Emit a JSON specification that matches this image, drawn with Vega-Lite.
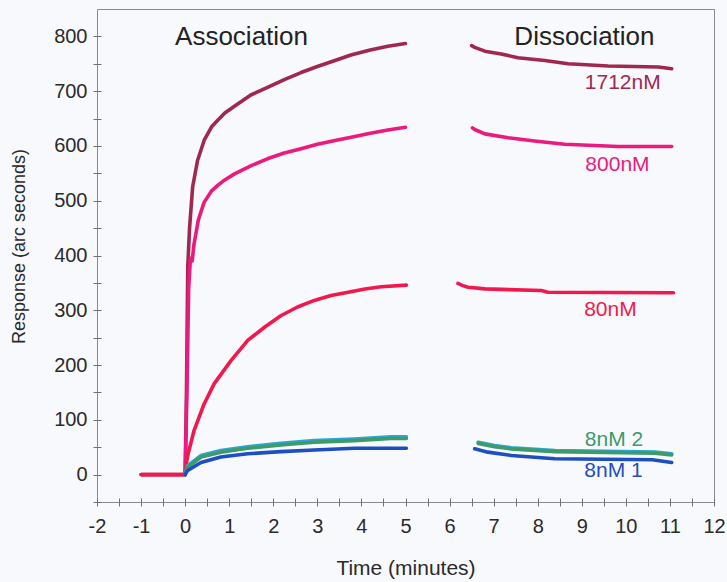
{
  "$schema": "https://vega.github.io/schema/vega-lite/v6.json",
  "width": 617,
  "height": 493,
  "autosize": "none",
  "padding": {"left": 97, "top": 9, "right": 13, "bottom": 80},
  "background": "#f8f9fc",
  "config": {
    "view": {"stroke": "#8a8a8a", "strokeWidth": 1, "fill": "#f8f9fc"},
    "font": "Liberation Sans",
    "axis": {
      "grid": false, "domain": false,
      "offset": -4, "tickSize": 8, "tickColor": "#707070", "tickWidth": 1,
      "labelFontSize": 20, "labelColor": "#2a2a2a",
      "labelOverlap": false, "labelFlush": false, "labelBound": false,
      "titleFontWeight": "normal", "titleColor": "#2a2a2a"
    }
  },
  "datasets": {
    "curves": [
      {"curve": "1712nM", "phase": "association", "t": -1, "r": 0},
      {"curve": "1712nM", "phase": "association", "t": 0, "r": 0},
      {"curve": "1712nM", "phase": "association", "t": 0.03, "r": 150},
      {"curve": "1712nM", "phase": "association", "t": 0.06, "r": 380},
      {"curve": "1712nM", "phase": "association", "t": 0.1, "r": 450},
      {"curve": "1712nM", "phase": "association", "t": 0.17, "r": 525},
      {"curve": "1712nM", "phase": "association", "t": 0.28, "r": 573},
      {"curve": "1712nM", "phase": "association", "t": 0.43, "r": 610},
      {"curve": "1712nM", "phase": "association", "t": 0.6, "r": 635},
      {"curve": "1712nM", "phase": "association", "t": 0.74, "r": 647},
      {"curve": "1712nM", "phase": "association", "t": 0.9, "r": 660},
      {"curve": "1712nM", "phase": "association", "t": 1.11, "r": 672},
      {"curve": "1712nM", "phase": "association", "t": 1.49, "r": 693},
      {"curve": "1712nM", "phase": "association", "t": 1.87, "r": 707},
      {"curve": "1712nM", "phase": "association", "t": 2.25, "r": 721},
      {"curve": "1712nM", "phase": "association", "t": 2.63, "r": 734},
      {"curve": "1712nM", "phase": "association", "t": 3.0, "r": 745},
      {"curve": "1712nM", "phase": "association", "t": 3.4, "r": 756},
      {"curve": "1712nM", "phase": "association", "t": 3.76, "r": 766},
      {"curve": "1712nM", "phase": "association", "t": 4.2, "r": 775},
      {"curve": "1712nM", "phase": "association", "t": 4.6, "r": 782},
      {"curve": "1712nM", "phase": "association", "t": 5.0, "r": 787},
      {"curve": "1712nM", "phase": "dissociation", "t": 6.5, "r": 783},
      {"curve": "1712nM", "phase": "dissociation", "t": 6.57, "r": 780},
      {"curve": "1712nM", "phase": "dissociation", "t": 6.8, "r": 773},
      {"curve": "1712nM", "phase": "dissociation", "t": 7.17, "r": 768},
      {"curve": "1712nM", "phase": "dissociation", "t": 7.55, "r": 761},
      {"curve": "1712nM", "phase": "dissociation", "t": 8.16, "r": 756},
      {"curve": "1712nM", "phase": "dissociation", "t": 8.69, "r": 750},
      {"curve": "1712nM", "phase": "dissociation", "t": 9.6, "r": 746},
      {"curve": "1712nM", "phase": "dissociation", "t": 10.74, "r": 744},
      {"curve": "1712nM", "phase": "dissociation", "t": 11.04, "r": 741},

      {"curve": "800nM", "phase": "association", "t": 0, "r": 0},
      {"curve": "800nM", "phase": "association", "t": 0.04, "r": 150},
      {"curve": "800nM", "phase": "association", "t": 0.08, "r": 340},
      {"curve": "800nM", "phase": "association", "t": 0.12, "r": 395},
      {"curve": "800nM", "phase": "association", "t": 0.16, "r": 390},
      {"curve": "800nM", "phase": "association", "t": 0.2, "r": 420},
      {"curve": "800nM", "phase": "association", "t": 0.3, "r": 465},
      {"curve": "800nM", "phase": "association", "t": 0.43, "r": 497},
      {"curve": "800nM", "phase": "association", "t": 0.6, "r": 518},
      {"curve": "800nM", "phase": "association", "t": 0.74, "r": 528},
      {"curve": "800nM", "phase": "association", "t": 0.9, "r": 538},
      {"curve": "800nM", "phase": "association", "t": 1.12, "r": 549},
      {"curve": "800nM", "phase": "association", "t": 1.5, "r": 564},
      {"curve": "800nM", "phase": "association", "t": 1.88, "r": 577},
      {"curve": "800nM", "phase": "association", "t": 2.25, "r": 587},
      {"curve": "800nM", "phase": "association", "t": 2.63, "r": 595},
      {"curve": "800nM", "phase": "association", "t": 3.0, "r": 603},
      {"curve": "800nM", "phase": "association", "t": 3.4, "r": 610},
      {"curve": "800nM", "phase": "association", "t": 3.77, "r": 616},
      {"curve": "800nM", "phase": "association", "t": 4.2, "r": 623},
      {"curve": "800nM", "phase": "association", "t": 4.6, "r": 629},
      {"curve": "800nM", "phase": "association", "t": 5.0, "r": 634},
      {"curve": "800nM", "phase": "dissociation", "t": 6.52, "r": 633},
      {"curve": "800nM", "phase": "dissociation", "t": 6.57, "r": 630},
      {"curve": "800nM", "phase": "dissociation", "t": 6.8, "r": 622},
      {"curve": "800nM", "phase": "dissociation", "t": 7.33, "r": 615},
      {"curve": "800nM", "phase": "dissociation", "t": 7.93, "r": 609},
      {"curve": "800nM", "phase": "dissociation", "t": 8.61, "r": 603},
      {"curve": "800nM", "phase": "dissociation", "t": 9.83, "r": 599},
      {"curve": "800nM", "phase": "dissociation", "t": 11.04, "r": 599},

      {"curve": "80nM", "phase": "association", "t": -1, "r": 0},
      {"curve": "80nM", "phase": "association", "t": 0, "r": 0},
      {"curve": "80nM", "phase": "association", "t": 0.05, "r": 32},
      {"curve": "80nM", "phase": "association", "t": 0.2, "r": 80},
      {"curve": "80nM", "phase": "association", "t": 0.43, "r": 129},
      {"curve": "80nM", "phase": "association", "t": 0.66, "r": 166},
      {"curve": "80nM", "phase": "association", "t": 1.04, "r": 208},
      {"curve": "80nM", "phase": "association", "t": 1.42, "r": 245},
      {"curve": "80nM", "phase": "association", "t": 1.8, "r": 269},
      {"curve": "80nM", "phase": "association", "t": 2.17, "r": 290},
      {"curve": "80nM", "phase": "association", "t": 2.55, "r": 306},
      {"curve": "80nM", "phase": "association", "t": 2.93, "r": 318},
      {"curve": "80nM", "phase": "association", "t": 3.31, "r": 327},
      {"curve": "80nM", "phase": "association", "t": 3.7, "r": 333},
      {"curve": "80nM", "phase": "association", "t": 4.08, "r": 339},
      {"curve": "80nM", "phase": "association", "t": 4.45, "r": 343},
      {"curve": "80nM", "phase": "association", "t": 5.02, "r": 346},
      {"curve": "80nM", "phase": "dissociation", "t": 6.19, "r": 349},
      {"curve": "80nM", "phase": "dissociation", "t": 6.3, "r": 345},
      {"curve": "80nM", "phase": "dissociation", "t": 6.42, "r": 342},
      {"curve": "80nM", "phase": "dissociation", "t": 6.8, "r": 339},
      {"curve": "80nM", "phase": "dissociation", "t": 8.08, "r": 336},
      {"curve": "80nM", "phase": "dissociation", "t": 8.23, "r": 333},
      {"curve": "80nM", "phase": "dissociation", "t": 11.08, "r": 332},

      {"curve": "8nM 2b", "phase": "association", "t": 0, "r": 0},
      {"curve": "8nM 2b", "phase": "association", "t": 0.05, "r": 16},
      {"curve": "8nM 2b", "phase": "association", "t": 0.36, "r": 35},
      {"curve": "8nM 2b", "phase": "association", "t": 0.81, "r": 44},
      {"curve": "8nM 2b", "phase": "association", "t": 1.42, "r": 51},
      {"curve": "8nM 2b", "phase": "association", "t": 2.17, "r": 57},
      {"curve": "8nM 2b", "phase": "association", "t": 2.93, "r": 62},
      {"curve": "8nM 2b", "phase": "association", "t": 3.84, "r": 65},
      {"curve": "8nM 2b", "phase": "association", "t": 4.67, "r": 69},
      {"curve": "8nM 2b", "phase": "association", "t": 5.02, "r": 69},
      {"curve": "8nM 2b", "phase": "dissociation", "t": 6.65, "r": 59},
      {"curve": "8nM 2b", "phase": "dissociation", "t": 7.02, "r": 53},
      {"curve": "8nM 2b", "phase": "dissociation", "t": 7.4, "r": 49},
      {"curve": "8nM 2b", "phase": "dissociation", "t": 8.39, "r": 44},
      {"curve": "8nM 2b", "phase": "dissociation", "t": 10.66, "r": 41},
      {"curve": "8nM 2b", "phase": "dissociation", "t": 11.04, "r": 38},

      {"curve": "8nM 2", "phase": "association", "t": 0, "r": 0},
      {"curve": "8nM 2", "phase": "association", "t": 0.05, "r": 13},
      {"curve": "8nM 2", "phase": "association", "t": 0.36, "r": 32},
      {"curve": "8nM 2", "phase": "association", "t": 0.81, "r": 41},
      {"curve": "8nM 2", "phase": "association", "t": 1.42, "r": 48},
      {"curve": "8nM 2", "phase": "association", "t": 2.17, "r": 54},
      {"curve": "8nM 2", "phase": "association", "t": 2.93, "r": 59},
      {"curve": "8nM 2", "phase": "association", "t": 3.84, "r": 62},
      {"curve": "8nM 2", "phase": "association", "t": 4.67, "r": 66},
      {"curve": "8nM 2", "phase": "association", "t": 5.02, "r": 66},
      {"curve": "8nM 2", "phase": "dissociation", "t": 6.65, "r": 57},
      {"curve": "8nM 2", "phase": "dissociation", "t": 7.02, "r": 51},
      {"curve": "8nM 2", "phase": "dissociation", "t": 7.4, "r": 47},
      {"curve": "8nM 2", "phase": "dissociation", "t": 8.39, "r": 42},
      {"curve": "8nM 2", "phase": "dissociation", "t": 10.66, "r": 39},
      {"curve": "8nM 2", "phase": "dissociation", "t": 11.04, "r": 36},

      {"curve": "8nM 1", "phase": "association", "t": 0, "r": 0},
      {"curve": "8nM 1", "phase": "association", "t": 0.05, "r": 7},
      {"curve": "8nM 1", "phase": "association", "t": 0.36, "r": 22},
      {"curve": "8nM 1", "phase": "association", "t": 0.81, "r": 32},
      {"curve": "8nM 1", "phase": "association", "t": 1.42, "r": 38},
      {"curve": "8nM 1", "phase": "association", "t": 2.17, "r": 42},
      {"curve": "8nM 1", "phase": "association", "t": 2.93, "r": 45},
      {"curve": "8nM 1", "phase": "association", "t": 3.84, "r": 48},
      {"curve": "8nM 1", "phase": "association", "t": 5.02, "r": 48},
      {"curve": "8nM 1", "phase": "dissociation", "t": 6.57, "r": 47},
      {"curve": "8nM 1", "phase": "dissociation", "t": 6.87, "r": 41},
      {"curve": "8nM 1", "phase": "dissociation", "t": 7.4, "r": 35},
      {"curve": "8nM 1", "phase": "dissociation", "t": 8.39, "r": 29},
      {"curve": "8nM 1", "phase": "dissociation", "t": 10.6, "r": 27},
      {"curve": "8nM 1", "phase": "dissociation", "t": 11.04, "r": 22}
    ],
    "curveLabels": [
      {"curve": "1712nM", "text": "1712nM", "t": 9.93, "r": 704},
      {"curve": "800nM", "text": "800nM", "t": 9.81, "r": 555},
      {"curve": "80nM", "text": "80nM", "t": 9.65, "r": 290},
      {"curve": "8nM 2", "text": "8nM 2", "t": 9.73, "r": 53},
      {"curve": "8nM 1", "text": "8nM 1", "t": 9.72, "r": -5}
    ],
    "phaseTitles": [
      {"text": "Association", "t": 1.28, "r": 784},
      {"text": "Dissociation", "t": 9.06, "r": 784}
    ]
  },
  "resolve": {"axis": {"x": "independent", "y": "independent"}},
  "layer": [
    {
      "data": {"name": "curves"},
      "mark": {"type": "line", "strokeWidth": 3.6, "strokeCap": "round", "strokeJoin": "round"},
      "encoding": {
        "x": {
          "field": "t", "type": "quantitative",
          "scale": {"domain": [-2, 12], "nice": false, "zero": false},
          "axis": {
            "orient": "bottom",
            "title": "Time (minutes)",
            "values": [-2, -1, 0, 1, 2, 3, 4, 5, 6, 7, 8, 9, 10, 11, 12],
            "labelExpr": "datum.value < 0 ? '-' + abs(datum.value) : datum.label",
            "labelPadding": 10,
            "titleFontSize": 21, "titleBaseline": "alphabetic", "titleY": 76
          }
        },
        "y": {
          "field": "r", "type": "quantitative",
          "scale": {"domain": [-50, 850], "nice": false, "zero": false},
          "axis": {
            "orient": "left",
            "title": "Response (arc seconds)",
            "values": [0, 100, 200, 300, 400, 500, 600, 700, 800],
            "labelPadding": 6,
            "titleFontSize": 18, "titleBaseline": "alphabetic", "titleAngle": -90, "titleX": -77, "titleY": 237
          }
        },
        "color": {
          "field": "curve", "type": "nominal",
          "scale": {
            "domain": ["8nM 1", "8nM 2b", "8nM 2", "80nM", "800nM", "1712nM"],
            "range": ["#1d4fc0", "#2aa6d6", "#3d9a6a", "#f0194e", "#ea1a7e", "#a0284f"]
          },
          "legend": null
        },
        "detail": {"field": "phase", "type": "nominal"},
        "order": {"field": "t", "type": "quantitative"}
      }
    },
    {
      "data": {"name": "curveLabels"},
      "mark": {"type": "text", "fontSize": 21, "align": "center", "baseline": "alphabetic"},
      "encoding": {
        "x": {"field": "t", "type": "quantitative", "axis": null},
        "y": {"field": "r", "type": "quantitative", "axis": null},
        "text": {"field": "text"},
        "color": {"field": "curve", "type": "nominal", "legend": null}
      }
    },
    {
      "data": {"name": "phaseTitles"},
      "mark": {"type": "text", "fontSize": 26, "align": "center", "baseline": "alphabetic", "color": "#222222"},
      "encoding": {
        "x": {
          "field": "t", "type": "quantitative",
          "axis": {
            "orient": "bottom", "title": null, "labels": false,
            "values": [-1.5, -0.5, 0.5, 1.5, 2.5, 3.5, 4.5, 5.5, 6.5, 7.5, 8.5, 9.5, 10.5, 11.5]
          }
        },
        "y": {
          "field": "r", "type": "quantitative",
          "axis": {
            "orient": "left", "title": null, "labels": false,
            "values": [-50, 50, 150, 250, 350, 450, 550, 650, 750]
          }
        },
        "text": {"field": "text"}
      }
    }
  ]
}
